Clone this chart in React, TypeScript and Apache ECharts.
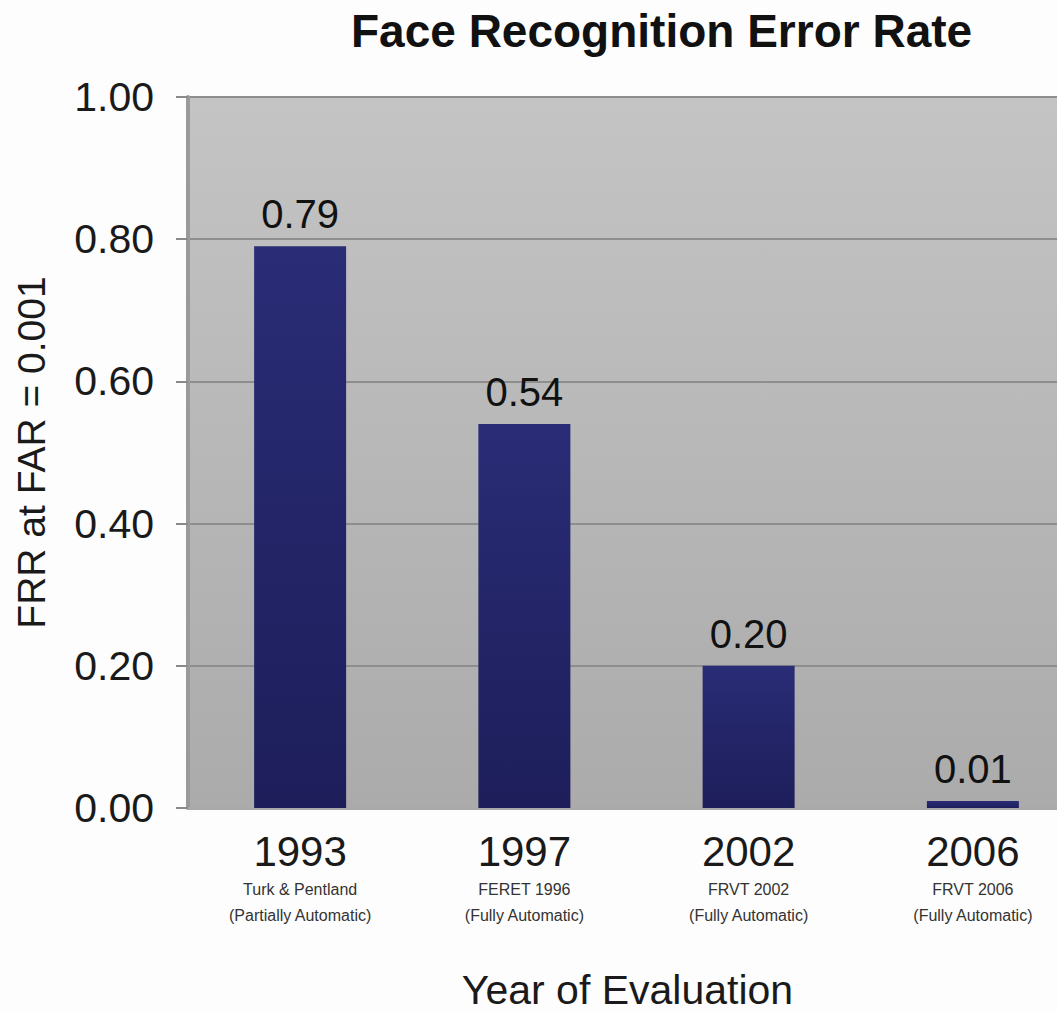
import React, { useEffect, useRef } from "react";
import * as echarts from "echarts";

const years = ["1993", "1997", "2002", "2006"];
const evaluations = ["Turk & Pentland", "FERET 1996", "FRVT 2002", "FRVT 2006"];
const modes = [
  "(Partially Automatic)",
  "(Fully Automatic)",
  "(Fully Automatic)",
  "(Fully Automatic)",
];
const frrValues = [0.79, 0.54, 0.2, 0.01];
const yTicks = { min: 0, max: 1, interval: 0.2 };

const FONT = "'Liberation Sans', Arial, Helvetica, sans-serif";

export default function App() {
  const ref = useRef<HTMLDivElement>(null);

  useEffect(() => {
    if (!ref.current) return;
    const chart = echarts.init(ref.current, undefined, { renderer: "svg" });
    const categories = years.map((y, i) => `${y}\n${evaluations[i]}\n${modes[i]}`);

    chart.setOption({
      animation: false,
      backgroundColor: "#fdfdfd",
      textStyle: { fontFamily: FONT },
      title: {
        text: "Face Recognition Error Rate",
        left: 346,
        top: 3,
        textStyle: {
          fontFamily: FONT,
          fontSize: 46,
          fontWeight: "bold",
          color: "#111111",
        },
      },
      grid: {
        left: 188,
        top: 97,
        height: 711,
        width: 897,
        outerBoundsMode: "none",
        containLabel: false,
        show: true,
        borderWidth: 0,
        backgroundColor: new echarts.graphic.LinearGradient(0, 0, 0, 1, [
          { offset: 0, color: "#c4c4c4" },
          { offset: 1, color: "#ababab" },
        ]),
      },
      xAxis: {
        type: "category",
        data: categories,
        name: "Year of Evaluation",
        nameLocation: "middle",
        nameGap: 161,
        nameTextStyle: {
          fontFamily: FONT,
          fontSize: 41,
          lineHeight: 41,
          color: "#1a1a1a",
          padding: [0, 18, 0, 0],
        },
        axisLine: { show: true, lineStyle: { color: "#a9a9a9", width: 3 } },
        axisTick: { show: false },
        axisLabel: {
          margin: 18,
          interval: 0,
          formatter: (v: string) => {
            const [y, e, m] = v.split("\n");
            return `{y|${y}}\n{s|${e}}\n{s|${m}}`;
          },
          rich: {
            y: { fontFamily: FONT, fontSize: 42, lineHeight: 50, color: "#1a1a1a" },
            s: { fontFamily: FONT, fontSize: 16, lineHeight: 26, color: "#333333" },
          },
        },
      },
      yAxis: {
        type: "value",
        min: yTicks.min,
        max: yTicks.max,
        interval: yTicks.interval,
        name: "FRR at FAR = 0.001",
        nameLocation: "middle",
        nameGap: 137,
        nameTextStyle: { fontFamily: FONT, fontSize: 39, color: "#1a1a1a" },
        axisLine: { show: true, lineStyle: { color: "#9a9a9a", width: 4 } },
        axisTick: { show: true, length: 12, lineStyle: { color: "#8a8a8a", width: 2 } },
        axisLabel: {
          margin: 34,
          fontFamily: FONT,
          fontSize: 41,
          color: "#1a1a1a",
          formatter: (v: number) => v.toFixed(2),
        },
        splitLine: { show: true, lineStyle: { color: "#8e8e8e", width: 2 } },
      },
      series: [
        {
          type: "bar",
          data: frrValues,
          barWidth: 92,
          itemStyle: {
            color: new echarts.graphic.LinearGradient(0, 0, 0, 1, [
              { offset: 0, color: "#2a2c76" },
              { offset: 1, color: "#1d1e5a" },
            ]),
          },
          label: {
            show: true,
            position: "top",
            distance: 12,
            fontFamily: FONT,
            fontSize: 40,
            color: "#111111",
            formatter: (p: any) => Number(p.value).toFixed(2),
          },
        },
      ],
    });

    return () => chart.dispose();
  }, []);

  return (
    <div
      style={{
        position: "fixed",
        left: 0,
        top: 0,
        width: 1057,
        height: 1013,
        overflow: "hidden",
      }}
    >
      <div ref={ref} style={{ width: 1085, height: 1013 }} />
    </div>
  );
}
